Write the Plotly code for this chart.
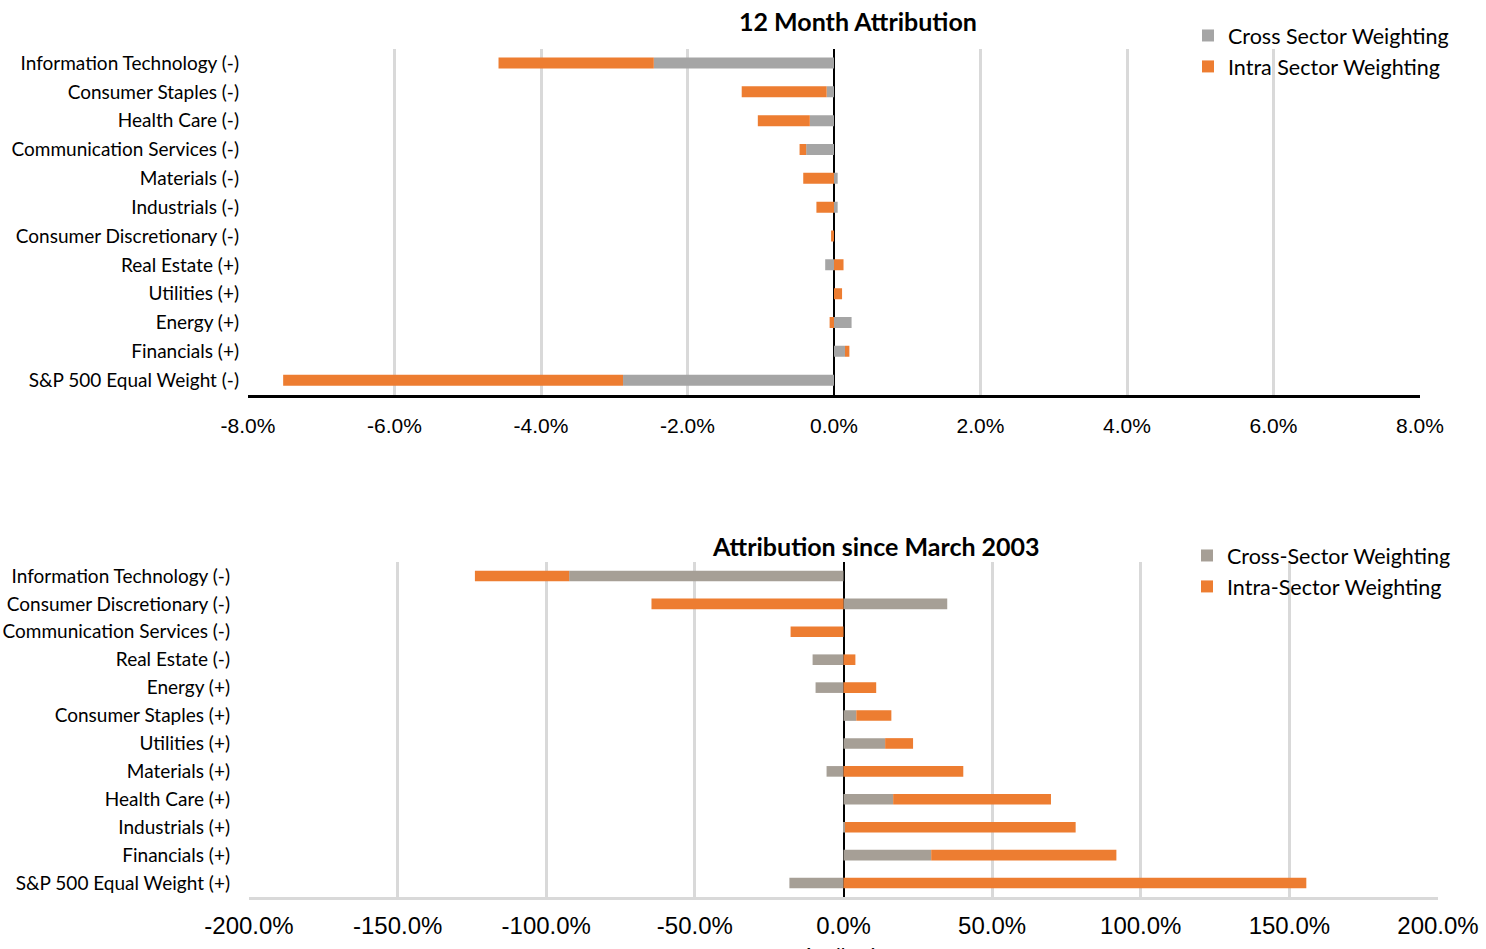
import plotly.graph_objects as go

W, H = 1486, 949

# ---- Top chart data (12 Month Attribution), values in %
top_categories = [
    "Information Technology (-)", "Consumer Staples (-)", "Health Care (-)",
    "Communication Services (-)", "Materials (-)", "Industrials (-)",
    "Consumer Discretionary (-)", "Real Estate (+)", "Utilities (+)",
    "Energy (+)", "Financials (+)", "S&P 500 Equal Weight (-)",
]
top_cross = [-2.46, -0.10, -0.33, -0.38, 0.05, 0.05, 0.0, -0.12, 0.0, 0.24, 0.15, -2.88]
top_intra = [-2.12, -1.16, -0.71, -0.09, -0.42, -0.24, -0.04, 0.13, 0.11, -0.06, 0.06, -4.64]
top_ticks = [-8, -6, -4, -2, 0, 2, 4, 6, 8]
top_ticklabels = ["-8.0%", "-6.0%", "-4.0%", "-2.0%", "0.0%", "2.0%", "4.0%", "6.0%", "8.0%"]

# ---- Bottom chart data (Attribution since March 2003), values in %
bot_categories = [
    "Information Technology (-)", "Consumer Discretionary (-)", "Communication Services (-)",
    "Real Estate (-)", "Energy (+)", "Consumer Staples (+)", "Utilities (+)",
    "Materials (+)", "Health Care (+)", "Industrials (+)", "Financials (+)",
    "S&P 500 Equal Weight (+)",
]
bot_cross = [-92.3, 34.9, 0.0, -10.4, -9.4, 4.3, 14.0, -5.7, 16.7, 0.5, 29.5, -18.2]
bot_intra = [-31.7, -64.6, -17.8, 4.0, 11.0, 11.8, 9.4, 40.3, 53.1, 77.6, 62.3, 155.7]
bot_ticks = [-200, -150, -100, -50, 0, 50, 100, 150, 200]
bot_ticklabels = ["-200.0%", "-150.0%", "-100.0%", "-50.0%", "0.0%", "50.0%", "100.0%", "150.0%", "200.0%"]

ORANGE = "#ED7D31"
GRAY_TOP = "#A5A5A5"
GRAY_BOT = "#A69F96"
GRID = "#D9D9D9"
CAT_FONT = "Lato"
NUM_FONT = "Liberation Sans"

fig = go.Figure()
fig.add_bar(y=top_categories, x=top_cross, orientation="h", name="Cross Sector Weighting",
            marker=dict(color=GRAY_TOP, line=dict(width=0)), xaxis="x", yaxis="y", legend="legend")
fig.add_bar(y=top_categories, x=top_intra, orientation="h", name="Intra Sector Weighting",
            marker=dict(color=ORANGE, line=dict(width=0)), xaxis="x", yaxis="y", legend="legend")
fig.add_bar(y=bot_categories, x=bot_cross, orientation="h", name="Cross-Sector Weighting",
            marker=dict(color=GRAY_BOT, line=dict(width=0)), xaxis="x2", yaxis="y2", legend="legend2")
fig.add_bar(y=bot_categories, x=bot_intra, orientation="h", name="Intra-Sector Weighting",
            marker=dict(color=ORANGE, line=dict(width=0)), xaxis="x2", yaxis="y2", legend="legend2")

def px_x(p):
    return p / W

def px_y(p):
    return 1 - p / H

fig.update_layout(
    width=W, height=H,
    margin=dict(l=0, r=0, t=0, b=0, autoexpand=False),
    paper_bgcolor="white", plot_bgcolor="white",
    barmode="relative", bargap=0.62,
    showlegend=True,
    xaxis=dict(domain=[px_x(248), px_x(1420)], range=[-8, 8], tickvals=top_ticks,
               ticktext=top_ticklabels, showgrid=True, gridcolor=GRID, gridwidth=2.5,
               zeroline=True, zerolinecolor="black", zerolinewidth=2,
               showline=True, linecolor="black", linewidth=2.5,
               ticks="", ticklabelstandoff=10,
               tickfont=dict(family=NUM_FONT, size=21, color="#000000"), anchor="y",
               fixedrange=True),
    yaxis=dict(domain=[px_y(394.6), px_y(48.6)], autorange="reversed",
               categoryorder="array", categoryarray=top_categories,
               showgrid=False, showline=False, ticks="", ticklabelstandoff=8,
               tickfont=dict(family=CAT_FONT, size=19, color="#000000"), anchor="x"),
    xaxis2=dict(domain=[px_x(249), px_x(1438)], range=[-200, 200], tickvals=bot_ticks,
                ticktext=bot_ticklabels, showgrid=True, gridcolor=GRID, gridwidth=2.5,
                zeroline=True, zerolinecolor="black", zerolinewidth=2,
                showline=True, linecolor=GRID, linewidth=2.5,
                ticks="", ticklabelstandoff=5,
                tickfont=dict(family=NUM_FONT, size=24, color="#000000"), anchor="y2"),
    yaxis2=dict(domain=[px_y(897), px_y(562)], autorange="reversed",
                categoryorder="array", categoryarray=bot_categories,
                showgrid=False, showline=False, ticks="", ticklabelstandoff=18,
                tickfont=dict(family=CAT_FONT, size=19, color="#000000"), anchor="x2"),
    legend=dict(x=px_x(1188), y=px_y(15), xanchor="left", yanchor="top",
                font=dict(family=CAT_FONT, size=21.5, color="#000000"),
                bgcolor="rgba(0,0,0,0)", itemwidth=30, tracegroupgap=0,
                traceorder="normal"),
    legend2=dict(x=px_x(1187), y=px_y(535), xanchor="left", yanchor="top",
                 font=dict(family=CAT_FONT, size=21.5, color="#000000"),
                 bgcolor="rgba(0,0,0,0)", itemwidth=30, tracegroupgap=0,
                 traceorder="normal"),
    annotations=[
        dict(text="<b>12 Month Attribution</b>", x=px_x(858), y=px_y(21), xref="paper", yref="paper",
             showarrow=False, xanchor="center", yanchor="middle",
             font=dict(family=CAT_FONT, size=25, color="#000000")),
        dict(text="<b>Attribution since March 2003</b>", x=px_x(876), y=px_y(546), xref="paper", yref="paper",
             showarrow=False, xanchor="center", yanchor="middle",
             font=dict(family=CAT_FONT, size=25, color="#000000")),
        dict(text="Attribution", x=px_x(850), y=px_y(940), xref="paper", yref="paper",
             showarrow=False, xanchor="center", yanchor="top",
             font=dict(family=CAT_FONT, size=20, color="#000000")),
    ],
)

fig.write_html("out.html")
